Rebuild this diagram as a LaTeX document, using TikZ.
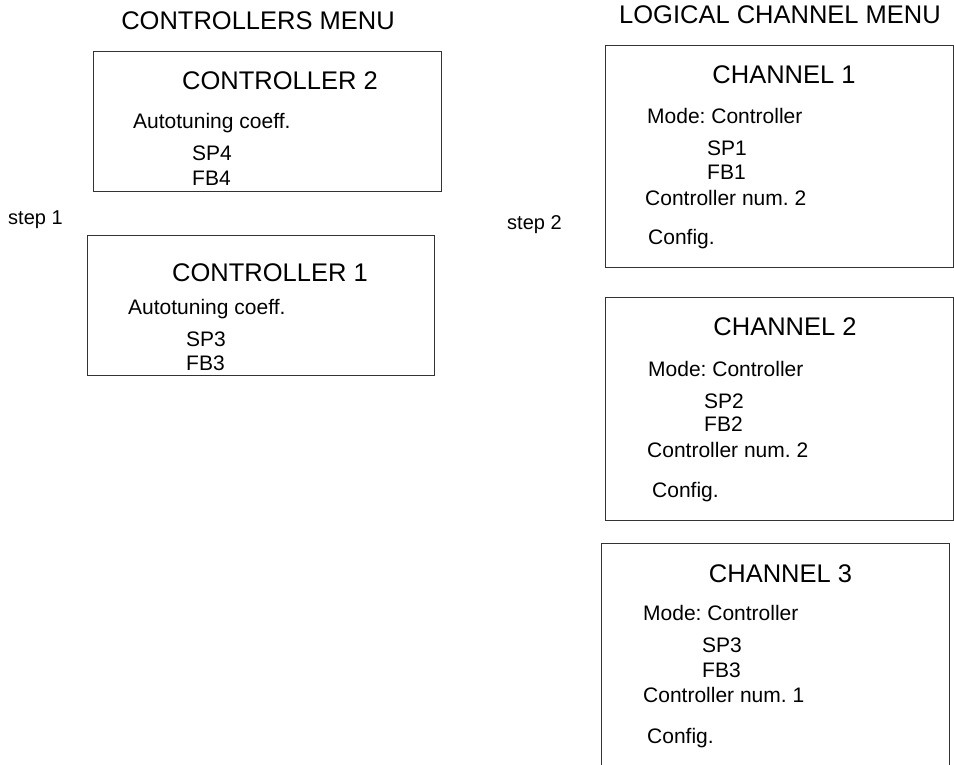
\documentclass[tikz,border=0pt]{standalone}
\usepackage{fontspec}
\setmainfont{Liberation Sans}
\usepackage{tikz}

\begin{document}
\frenchspacing
\begin{tikzpicture}[x=1pt, y=-1pt,
  menubox/.style={draw=black!80, line width=0.8pt, inner sep=0pt, anchor=north west},
  menutitle/.style={font=\fontsize{25.5}{25.5}\selectfont, text height=18pt, text depth=0pt, inner sep=0pt},
  boxtitle/.style={font=\fontsize{25.5}{25.5}\selectfont, text height=18pt, text depth=0pt, inner sep=0pt},
  steplabel/.style={font=\fontsize{20}{20}\selectfont, text height=14.3pt, text depth=0pt, inner sep=0pt, anchor=west},
  item/.style={font=\fontsize{21}{21}\selectfont, text height=15pt, text depth=0pt, inner sep=0pt, anchor=west}]
  \useasboundingbox (0,0) rectangle (954,765);
  % headings
  \node[menutitle] (ctrlmenu) at (258,21) {CONTROLLERS MENU};
  \node[menutitle] (chanmenu) at (780,14.5) {LOGICAL CHANNEL MENU};
  \node[steplabel] (step1) at (8,217) {step 1};
  \node[steplabel] (step2) at (507,222) {step 2};
  % controllers
  \node[menubox, minimum width=348pt, minimum height=140pt] (ctrl2) at (93,51) {};
  \node[boxtitle] (ctrl2title) at (280,81) {CONTROLLER 2};
  \node[item] (ctrl2auto) at (133,121.5) {Autotuning coeff.};
  \node[item] (ctrl2sp) at (192,153.5) {SP4};
  \node[item] (ctrl2fb) at (192,178) {FB4};
  \node[menubox, minimum width=347pt, minimum height=140pt] (ctrl1) at (87,235) {};
  \node[boxtitle] (ctrl1title) at (270,272) {CONTROLLER 1};
  \node[item] (ctrl1auto) at (128,306.5) {Autotuning coeff.};
  \node[item] (ctrl1sp) at (186,339) {SP3};
  \node[item] (ctrl1fb) at (186,363) {FB3};
  % logical channels
  \node[menubox, minimum width=348pt, minimum height=222pt] (chan1) at (605,45) {};
  \node[boxtitle] (chan1title) at (784,75) {CHANNEL 1};
  \node[item] (chan1mode) at (647,116.5) {Mode: Controller};
  \node[item] (chan1sp) at (707,148) {SP1};
  \node[item] (chan1fb) at (707,172) {FB1};
  \node[item] (chan1num) at (645,198) {Controller num. 2};
  \node[item] (chan1cfg) at (648,237) {Config.};
  \node[menubox, minimum width=348pt, minimum height=223pt] (chan2) at (605,297) {};
  \node[boxtitle] (chan2title) at (785,326) {CHANNEL 2};
  \node[item] (chan2mode) at (648,368.5) {Mode: Controller};
  \node[item] (chan2sp) at (704,401) {SP2};
  \node[item] (chan2fb) at (704,424) {FB2};
  \node[item] (chan2num) at (647,449.5) {Controller num. 2};
  \node[item] (chan2cfg) at (652,490) {Config.};
  \coordinate (chan3bl) at (601,766);
  \coordinate (chan3tl) at (601,543);
  \coordinate (chan3tr) at (949,543);
  \coordinate (chan3br) at (949,766);
  \draw[draw=black!80, line width=0.8pt] (chan3bl) -- (chan3tl) -- (chan3tr) -- (chan3br);
  \node[boxtitle] (chan3title) at (780.5,573) {CHANNEL 3};
  \node[item] (chan3mode) at (643,612.5) {Mode: Controller};
  \node[item] (chan3sp) at (702,645) {SP3};
  \node[item] (chan3fb) at (702,669.5) {FB3};
  \node[item] (chan3num) at (643,695) {Controller num. 1};
  \node[item] (chan3cfg) at (647,735.5) {Config.};
\end{tikzpicture}
\end{document}
